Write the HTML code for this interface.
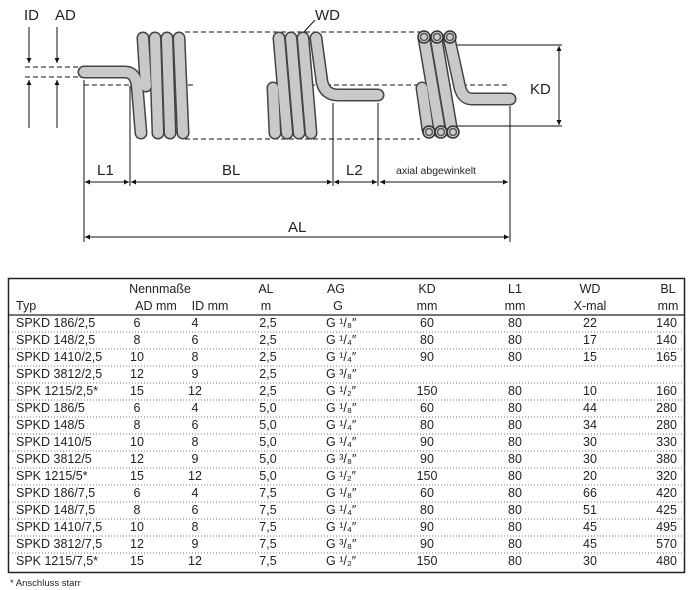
<!DOCTYPE html>
<html><head><meta charset="utf-8"><style>
body{margin:0;background:#fff;}
svg{display:block;font-family:"Liberation Sans",sans-serif;}
</style></head><body>
<svg width="694" height="590" viewBox="0 0 694 590" xmlns="http://www.w3.org/2000/svg">
<defs>
<marker id="a" viewBox="0 0 10 10" refX="10" refY="5" markerWidth="8" markerHeight="5" orient="auto-start-reverse"><path d="M0,0 L10,5 L0,10z" fill="#111"/></marker>
</defs>
<g fill="#222" font-size="15">
<text x="24" y="20">ID</text><text x="55" y="20">AD</text>
<text x="315" y="20">WD</text>
<text x="530" y="94">KD</text>
<text x="97" y="175">L1</text><text x="222" y="175">BL</text><text x="346" y="175">L2</text>
<text x="288" y="232">AL</text>
<text x="396" y="174" font-size="10.5">axial abgewinkelt</text>
</g>
<g stroke="#111" stroke-width="1" fill="none">
<line x1="29" y1="27" x2="29" y2="63" marker-end="url(#a)"/>
<line x1="29" y1="128" x2="29" y2="80" marker-end="url(#a)"/>
<line x1="57" y1="27" x2="57" y2="63" marker-end="url(#a)"/>
<line x1="57" y1="128" x2="57" y2="80" marker-end="url(#a)"/>
<g stroke-dasharray="5,3">
<line x1="25" y1="67" x2="84" y2="67"/><line x1="25" y1="77" x2="84" y2="77"/>
<line x1="185" y1="32" x2="420" y2="32"/><line x1="185" y1="139" x2="420" y2="139"/>
<line x1="84" y1="85" x2="195" y2="85"/><line x1="270" y1="85" x2="510" y2="85"/>
</g>
<line x1="84" y1="80" x2="84" y2="242"/>
<line x1="130" y1="86" x2="130" y2="186"/>
<line x1="333" y1="103" x2="333" y2="186"/>
<line x1="378" y1="103" x2="378" y2="186"/>
<line x1="510" y1="106" x2="510" y2="242"/>
<line x1="455" y1="45" x2="562" y2="45"/><line x1="455" y1="126" x2="562" y2="126"/>
<line x1="559" y1="46" x2="559" y2="125" marker-start="url(#a)" marker-end="url(#a)"/>
<line x1="85" y1="182" x2="129" y2="182" marker-start="url(#a)" marker-end="url(#a)"/>
<line x1="131" y1="182" x2="332" y2="182" marker-start="url(#a)" marker-end="url(#a)"/>
<line x1="334" y1="182" x2="377" y2="182" marker-start="url(#a)" marker-end="url(#a)"/>
<line x1="380" y1="182" x2="508" y2="182" marker-start="url(#a)" marker-end="url(#a)"/>
<line x1="85" y1="237" x2="509" y2="237" marker-start="url(#a)" marker-end="url(#a)"/>
<line x1="303" y1="33" x2="315" y2="20"/>
</g>
<g id="tubes" stroke-linecap="round" fill="none">
<g stroke="#444" stroke-width="13">
<path d="M84,72 L125,72 Q135,72 137,85 L141,133"/>
<line x1="143" y1="38" x2="146" y2="86"/>
<line x1="155" y1="38" x2="158" y2="133"/><line x1="167" y1="38" x2="170" y2="133"/><line x1="179" y1="38" x2="183" y2="133"/>
<line x1="273" y1="88" x2="275" y2="133"/>
<line x1="279" y1="38" x2="287" y2="133"/><line x1="291" y1="38" x2="299" y2="133"/><line x1="303" y1="38" x2="311" y2="133"/>
<path d="M316,38 L322,82 Q325,95 338,95 L378,95"/>
<line x1="422" y1="88" x2="428" y2="130"/>
<line x1="424" y1="38" x2="440" y2="132"/><line x1="436" y1="38" x2="452" y2="132"/><line x1="449" y1="38" x2="460" y2="88"/>
<path d="M460,88 Q463,99 472,99 L510,99"/>
</g>
<g stroke="#c9c9c9" stroke-width="10">
<path d="M84,72 L125,72 Q135,72 137,85 L141,133"/>
<line x1="143" y1="38" x2="146" y2="86"/>
<line x1="155" y1="38" x2="158" y2="133"/><line x1="167" y1="38" x2="170" y2="133"/><line x1="179" y1="38" x2="183" y2="133"/>
<line x1="273" y1="88" x2="275" y2="133"/>
<line x1="279" y1="38" x2="287" y2="133"/><line x1="291" y1="38" x2="299" y2="133"/><line x1="303" y1="38" x2="311" y2="133"/>
<path d="M316,38 L322,82 Q325,95 338,95 L378,95"/>
<line x1="422" y1="88" x2="428" y2="130"/>
<line x1="424" y1="38" x2="440" y2="132"/><line x1="436" y1="38" x2="452" y2="132"/><line x1="449" y1="38" x2="460" y2="88"/>
<path d="M460,88 Q463,99 472,99 L510,99"/>
</g>
</g>
<g fill="#ccc" stroke="#333" stroke-width="1.5">
<circle cx="424" cy="37" r="6"/><circle cx="437" cy="37" r="6"/><circle cx="450" cy="37" r="6"/>
<circle cx="429" cy="132" r="6"/><circle cx="441" cy="132" r="6"/><circle cx="453" cy="132" r="6"/>
</g>
<g fill="none" stroke="#555" stroke-width="1.5">
<circle cx="424" cy="37" r="3.5"/><circle cx="437" cy="37" r="3.5"/><circle cx="450" cy="37" r="3.5"/>
<circle cx="429" cy="132" r="3.5"/><circle cx="441" cy="132" r="3.5"/><circle cx="453" cy="132" r="3.5"/>
</g>
<rect x="8.5" y="278.5" width="676" height="294" fill="none" stroke="#222" stroke-width="1.5"/>
<line x1="9" y1="315" x2="684" y2="315" stroke="#222" stroke-width="1.3"/>
<g stroke="#777" stroke-width="1" stroke-dasharray="1,2">
<line x1="9" y1="332" x2="684" y2="332"/><line x1="9" y1="349" x2="684" y2="349"/><line x1="9" y1="366" x2="684" y2="366"/><line x1="9" y1="383" x2="684" y2="383"/><line x1="9" y1="400" x2="684" y2="400"/><line x1="9" y1="417" x2="684" y2="417"/><line x1="9" y1="434" x2="684" y2="434"/><line x1="9" y1="451" x2="684" y2="451"/><line x1="9" y1="468" x2="684" y2="468"/><line x1="9" y1="485" x2="684" y2="485"/><line x1="9" y1="502" x2="684" y2="502"/><line x1="9" y1="519" x2="684" y2="519"/><line x1="9" y1="536" x2="684" y2="536"/><line x1="9" y1="553" x2="684" y2="553"/>
</g>
<g fill="#222" font-size="12.5">
<g text-anchor="middle">
<text x="160" y="293">Nennmaße</text><text x="266" y="293">AL</text><text x="336" y="293">AG</text><text x="427" y="293">KD</text><text x="515" y="293">L1</text><text x="590" y="293">WD</text><text x="668" y="293">BL</text>
<text x="156" y="310">AD mm</text><text x="210" y="310">ID mm</text><text x="266" y="310">m</text><text x="338" y="310">G</text><text x="427" y="310">mm</text><text x="515" y="310">mm</text><text x="590" y="310">X-mal</text><text x="668" y="310">mm</text>
</g>
<text x="16" y="310">Typ</text>
<g><text x="16" y="327">SPKD 186/2,5</text><text x="16" y="344">SPKD 148/2,5</text><text x="16" y="361">SPKD 1410/2,5</text><text x="16" y="378">SPKD 3812/2,5</text><text x="16" y="395">SPK 1215/2,5*</text><text x="16" y="412">SPKD 186/5</text><text x="16" y="429">SPKD 148/5</text><text x="16" y="446">SPKD 1410/5</text><text x="16" y="463">SPKD 3812/5</text><text x="16" y="480">SPK 1215/5*</text><text x="16" y="497">SPKD 186/7,5</text><text x="16" y="514">SPKD 148/7,5</text><text x="16" y="531">SPKD 1410/7,5</text><text x="16" y="548">SPKD 3812/7,5</text><text x="16" y="565">SPK 1215/7,5*</text></g>
<g text-anchor="middle">
<text x="137" y="327">6</text><text x="137" y="344">8</text><text x="137" y="361">10</text><text x="137" y="378">12</text><text x="137" y="395">15</text><text x="137" y="412">6</text><text x="137" y="429">8</text><text x="137" y="446">10</text><text x="137" y="463">12</text><text x="137" y="480">15</text><text x="137" y="497">6</text><text x="137" y="514">8</text><text x="137" y="531">10</text><text x="137" y="548">12</text><text x="137" y="565">15</text>
<text x="195" y="327">4</text><text x="195" y="344">6</text><text x="195" y="361">8</text><text x="195" y="378">9</text><text x="195" y="395">12</text><text x="195" y="412">4</text><text x="195" y="429">6</text><text x="195" y="446">8</text><text x="195" y="463">9</text><text x="195" y="480">12</text><text x="195" y="497">4</text><text x="195" y="514">6</text><text x="195" y="531">8</text><text x="195" y="548">9</text><text x="195" y="565">12</text>
<text x="268" y="327">2,5</text><text x="268" y="344">2,5</text><text x="268" y="361">2,5</text><text x="268" y="378">2,5</text><text x="268" y="395">2,5</text><text x="268" y="412">5,0</text><text x="268" y="429">5,0</text><text x="268" y="446">5,0</text><text x="268" y="463">5,0</text><text x="268" y="480">5,0</text><text x="268" y="497">7,5</text><text x="268" y="514">7,5</text><text x="268" y="531">7,5</text><text x="268" y="548">7,5</text><text x="268" y="565">7,5</text>
<text x="427" y="327">60</text><text x="427" y="344">80</text><text x="427" y="361">90</text><text x="427" y="395">150</text><text x="427" y="412">60</text><text x="427" y="429">80</text><text x="427" y="446">90</text><text x="427" y="463">90</text><text x="427" y="480">150</text><text x="427" y="497">60</text><text x="427" y="514">80</text><text x="427" y="531">90</text><text x="427" y="548">90</text><text x="427" y="565">150</text>
<text x="515" y="327">80</text><text x="515" y="344">80</text><text x="515" y="361">80</text><text x="515" y="395">80</text><text x="515" y="412">80</text><text x="515" y="429">80</text><text x="515" y="446">80</text><text x="515" y="463">80</text><text x="515" y="480">80</text><text x="515" y="497">80</text><text x="515" y="514">80</text><text x="515" y="531">80</text><text x="515" y="548">80</text><text x="515" y="565">80</text>
<text x="590" y="327">22</text><text x="590" y="344">17</text><text x="590" y="361">15</text><text x="590" y="395">10</text><text x="590" y="412">44</text><text x="590" y="429">34</text><text x="590" y="446">30</text><text x="590" y="463">30</text><text x="590" y="480">20</text><text x="590" y="497">66</text><text x="590" y="514">51</text><text x="590" y="531">45</text><text x="590" y="548">45</text><text x="590" y="565">30</text>
</g>
<g text-anchor="end">
<text x="677" y="327">140</text><text x="677" y="344">140</text><text x="677" y="361">165</text><text x="677" y="395">160</text><text x="677" y="412">280</text><text x="677" y="429">280</text><text x="677" y="446">330</text><text x="677" y="463">380</text><text x="677" y="480">320</text><text x="677" y="497">420</text><text x="677" y="514">425</text><text x="677" y="531">495</text><text x="677" y="548">570</text><text x="677" y="565">480</text>
</g>
<g>
<text x="326" y="327">G ¹/₈″</text><text x="326" y="344">G ¹/₄″</text><text x="326" y="361">G ¹/₄″</text><text x="326" y="378">G ³/₈″</text><text x="326" y="395">G ¹/₂″</text><text x="326" y="412">G ¹/₈″</text><text x="326" y="429">G ¹/₄″</text><text x="326" y="446">G ¹/₄″</text><text x="326" y="463">G ³/₈″</text><text x="326" y="480">G ¹/₂″</text><text x="326" y="497">G ¹/₈″</text><text x="326" y="514">G ¹/₄″</text><text x="326" y="531">G ¹/₄″</text><text x="326" y="548">G ³/₈″</text><text x="326" y="565">G ¹/₂″</text>
</g>
<text x="10" y="586" font-size="9.5">* Anschluss starr</text>
</g>
</svg>
</body></html>
